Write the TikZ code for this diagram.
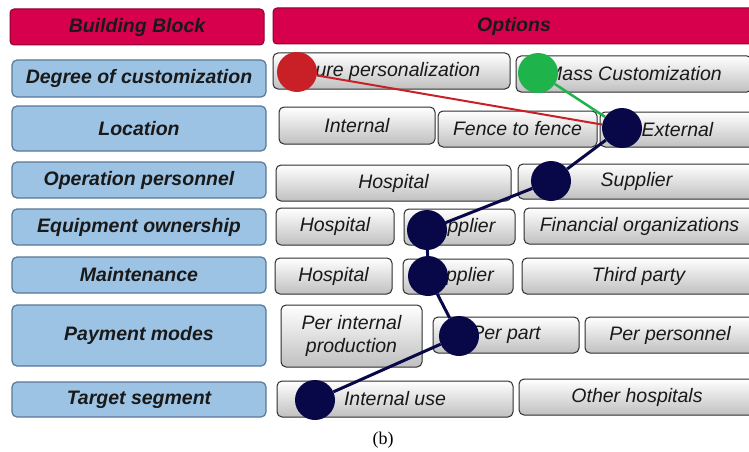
\documentclass[tikz,border=0pt]{standalone}
\usepackage{fontspec}
\setmainfont{Liberation Serif}
\setsansfont{Liberation Sans}
\usepackage{tikz}

\definecolor{headred}{RGB}{214,0,76}
\definecolor{headedge}{RGB}{140,0,45}
\definecolor{blockblue}{RGB}{157,195,228}
\definecolor{blockedge}{RGB}{88,120,152}
\definecolor{optgray}{RGB}{192,192,192}
\definecolor{optedge}{RGB}{45,45,45}
\definecolor{dotred}{RGB}{200,32,38}
\definecolor{dotgreen}{RGB}{30,180,75}
\definecolor{dotnavy}{RGB}{8,8,72}

\begin{document}
\begin{tikzpicture}[x=1pt,y=-1pt,
  head/.style={draw=headedge, fill=headred, rounded corners=4pt, line width=1pt,
    minimum height=36pt, text=black!90,
    font=\sffamily\bfseries\itshape\fontsize{19.5}{23}\selectfont},
  block/.style={draw=blockedge, fill=blockblue, rounded corners=5pt, line width=1.2pt,
    minimum width=254pt, text=black!90,
    font=\sffamily\bfseries\itshape\fontsize{19.5}{23}\selectfont},
  opt/.style={draw=optedge, top color=white, bottom color=optgray, rounded corners=5pt,
    line width=1pt, align=center, text=black!90,
    font=\sffamily\itshape\fontsize{19.5}{23}\selectfont},
  dot/.style={circle, minimum size=40pt, inner sep=0pt}]
\useasboundingbox (0,0) rectangle (749,452);
\clip (0,0) rectangle (749,452);

% headers
\node[head, minimum width=254pt] (hblock) at (137,27)   {Building Block};
\node[head, minimum width=482pt] (hopt)   at (514,26)   {Options};

% building blocks
\node[block, minimum height=37pt] (degree)   at (139,78.5)  {Degree of customization};
\node[block, minimum height=45pt] (location) at (139,128.5) {Location};
\node[block, minimum height=36pt] (operat)   at (139,180)   {Operation personnel};
\node[block, minimum height=36pt] (owner)    at (139,227)   {Equipment ownership};
\node[block, minimum height=36pt] (maint)    at (139,275)   {Maintenance};
\node[block, minimum height=61pt] (payment)  at (139,335.5) {Payment modes};
\node[block, minimum height=35pt] (target)   at (139,399.5) {Target segment};

% options
\node[opt, minimum width=237pt, minimum height=36pt] (pure)   at (391.5,71)  {Pure personalization};
\node[opt, minimum width=236pt, minimum height=36pt] (mass)   at (634,74)    {Mass Customization};
\node[opt, minimum width=156pt, minimum height=37pt] (intern) at (357,125.5) {Internal};
\node[opt, minimum width=159pt, minimum height=36pt] (fence)  at (517.5,129) {Fence to fence};
\node[opt, minimum width=155pt, minimum height=35pt] (extern) at (677.5,129.5) {External};
\node[opt, minimum width=235pt, minimum height=36pt] (hospA)  at (393.5,183) {Hospital};
\node[opt, minimum width=237pt, minimum height=35pt] (suppA)  at (636.5,181.5) {Supplier};
\node[opt, minimum width=118pt, minimum height=37pt] (hospB)  at (335,226.5) {Hospital};
\node[opt, minimum width=111pt, minimum height=36pt] (suppB)  at (459.5,227) {Supplier};
\node[opt, minimum width=231pt, minimum height=36pt] (financ) at (639.5,226) {Financial organizations};
\node[opt, minimum width=117pt, minimum height=36pt] (hospC)  at (333.5,276) {Hospital};
\node[opt, minimum width=110pt, minimum height=35pt] (suppC)  at (458,276.5) {Supplier};
\node[opt, minimum width=233pt, minimum height=36pt] (third)  at (638.5,276) {Third party};
\node[opt, minimum width=141pt, minimum height=62pt] (perint) at (351.5,336) {Per internal\\production};
\node[opt, minimum width=146pt, minimum height=36pt] (perpart) at (506,335)  {Per part};
\node[opt, minimum width=170pt, minimum height=36pt] (perpers) at (670,335)  {Per personnel};
\node[opt, minimum width=236pt, minimum height=36pt] (intuse) at (395,399)   {Internal use};
\node[opt, minimum width=236pt, minimum height=36pt] (othhosp) at (637,397)  {Other hospitals};

% chosen options
\node[dot, fill=dotred]   (pRed)   at (297,72)  {};
\node[dot, fill=dotgreen] (pGreen) at (538,73)  {};
\node[dot, fill=dotnavy]  (p1)     at (622,128) {};
\node[dot, fill=dotnavy]  (p2)     at (551,181) {};
\node[dot, fill=dotnavy]  (p3)     at (427,230) {};
\node[dot, fill=dotnavy]  (p4)     at (428,276) {};
\node[dot, fill=dotnavy]  (p5)     at (459,336) {};
\node[dot, fill=dotnavy]  (p6)     at (315,400) {};

\path[draw=dotred, line width=2pt]    (pRed) edge (p1);
\path[draw=dotgreen, line width=2.5pt] (pGreen) edge (p1);
\path[draw=dotnavy, line width=3pt]
      (p1) edge (p2)
      (p2) edge (p3)
      (p3) edge (p4)
      (p4) edge (p5)
      (p5) edge (p6);

\node[font=\rmfamily\fontsize{18}{20}\selectfont] (caption) at (383,440) {(b)};
\end{tikzpicture}
\end{document}
